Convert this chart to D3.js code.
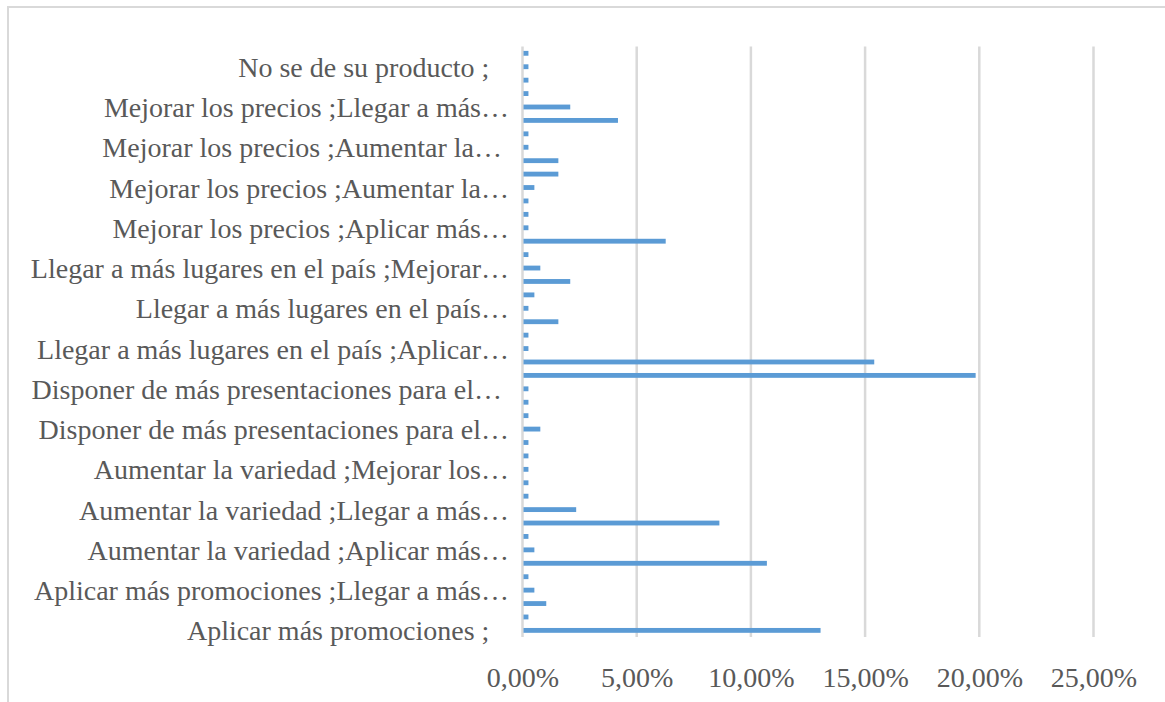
<!DOCTYPE html>
<html>
<head>
<meta charset="utf-8">
<script src="https://cdn.jsdelivr.net/npm/d3@7/dist/d3.min.js"></script>
<style>
  html, body { margin: 0; padding: 0; background: #fff; }
  svg { display: block; }
  text { font-family: "Liberation Serif", "Times New Roman", serif; fill: #595959; white-space: pre; }
</style>
</head>
<body>
<svg id="chart" width="1165" height="702"></svg>
<script>
// Categories listed from bottom (first) to top (last); only every 3rd is shown on the axis
const categories = [
  "Aplicar más promociones ;   \u2009",
  "Aplicar más promociones ;Aumentar la variedad ;",
  "Aplicar más promociones ;Disponer de más presentaciones ;",
  "Aplicar más promociones ;Llegar a más… ",
  "Aplicar más promociones ;Mejorar los precios ;",
  "Aumentar la variedad ;",
  "Aumentar la variedad ;Aplicar más… ",
  "Aumentar la variedad ;Aplicar más promociones ;Mejorar ;",
  "Aumentar la variedad ;Disponer de más presentaciones ;",
  "Aumentar la variedad ;Llegar a más… ",
  "Aumentar la variedad ;Llegar a más lugares ;Mejorar ;",
  "Aumentar la variedad ;Llegar a más lugares ;Aplicar ;",
  "Aumentar la variedad ;Mejorar los… ",
  "Aumentar la variedad ;Mejorar los precios ;Aplicar ;",
  "Disponer de más presentaciones para el consumo ;",
  "Disponer de más presentaciones para el… ",
  "Disponer de más presentaciones ;Aplicar ;",
  "Disponer de más presentaciones ;Aumentar ;",
  "Disponer de más presentaciones para el…  ",
  "Llegar a más lugares en el país ;",
  "Llegar a más lugares en el país ;Aplicar más promociones ;",
  "Llegar a más lugares en el país ;Aplicar… ",
  "Llegar a más lugares en el país ;Aumentar la variedad ;",
  "Llegar a más lugares en el país ;Disponer ;",
  "Llegar a más lugares en el país… ",
  "Llegar a más lugares en el país ;Disponer ;Mejorar ;",
  "Llegar a más lugares en el país ;Mejorar los precios ;",
  "Llegar a más lugares en el país ;Mejorar… ",
  "Llegar a más lugares en el país ;Mejorar ;Aumentar ;",
  "Mejorar los precios ;",
  "Mejorar los precios ;Aplicar más… ",
  "Mejorar los precios ;Aplicar más promociones ;Llegar ;",
  "Mejorar los precios ;Aumentar la variedad ;",
  "Mejorar los precios ;Aumentar la… ",
  "Mejorar los precios ;Aumentar la variedad ;Aplicar ;",
  "Mejorar los precios ;Aumentar la variedad ;Llegar ;",
  "Mejorar los precios ;Aumentar la…  ",
  "Mejorar los precios ;Disponer de más presentaciones ;",
  "Mejorar los precios ;Llegar a más lugares en el país ;",
  "Mejorar los precios ;Llegar a más… ",
  "Mejorar los precios ;Llegar a más lugares ;Aplicar ;",
  "Mejorar los precios ;Llegar a más lugares ;Aumentar ;",
  "No se de su producto ;   \u2009",
  "No se de su producto ;Mejorar los precios ;"
];
// Percentage values (same order as categories)
const values = [
  13.05, 0.26, 1.04, 0.52, 0.26, 10.70, 0.52, 0.26, 8.62, 2.35,
  0.26, 0.26, 0.26, 0.26, 0.26, 0.78, 0.26, 0.26, 0.26, 19.84,
  15.40, 0.26, 0.26, 1.57, 0.26, 0.52, 2.09, 0.78, 0.26, 6.27,
  0.26, 0.26, 0.26, 0.52, 1.57, 1.57, 0.26, 0.26, 4.18, 2.09,
  0.26, 0.26, 0.26, 0.26
];
const xTicks = [0, 5, 10, 15, 20, 25];

const data = categories.map((c, i) => ({ cat: c, val: values[i] }));
const svg = d3.select("#chart");

// outer chart border
svg.append("rect")
  .attr("x", 8).attr("y", 7).attr("width", 1170).attr("height", 710)
  .attr("fill", "none").attr("stroke", "#d9d9d9").attr("stroke-width", 2);

const plotTop = 46.6, plotBottom = 637.1;
const x = d3.scaleLinear().domain([0, 25]).range([522.5, 1093.5]);
const y = d3.scaleBand().domain(categories).range([plotBottom, plotTop])
  .paddingInner(0.64).paddingOuter(0.32);

// gridlines
svg.append("g").selectAll("line").data(xTicks).join("line")
  .attr("x1", d => x(d)).attr("x2", d => x(d))
  .attr("y1", plotTop).attr("y2", plotBottom)
  .attr("stroke", "#d9d9d9").attr("stroke-width", 2.5);

// bars
svg.append("g").selectAll("rect").data(data).join("rect")
  .attr("x", x(0) + 1)
  .attr("y", d => y(d.cat))
  .attr("width", d => Math.max(0, x(d.val) - x(0) - 1))
  .attr("height", y.bandwidth())
  .attr("fill", "#5b9bd5");

// x axis labels
const fmt = d => d.toFixed(2).replace(".", ",") + "%";
const xAxis = d3.axisBottom(x).tickValues(xTicks).tickFormat(fmt).tickSize(0).tickPadding(0);
const gx = svg.append("g").attr("transform", `translate(0, 667)`).call(xAxis);
gx.select(".domain").remove();
gx.selectAll("text").attr("font-size", 28).attr("dy", "0.71em")
  .style("font-family", '"Liberation Serif", "Times New Roman", serif').attr("fill", "#595959");

// y axis labels (every 3rd category)
const yTicks = categories.filter((c, i) => i % 3 === 0);
const yAxis = d3.axisLeft(y).tickValues(yTicks).tickSize(0).tickPadding(0);
const gy = svg.append("g").attr("transform", `translate(516, 0)`).call(yAxis);
gy.select(".domain").remove();
gy.selectAll("text").attr("font-size", 28).attr("dy", "0.36em")
  .style("font-family", '"Liberation Serif", "Times New Roman", serif')
  .style("white-space", "pre").attr("fill", "#595959");
</script>
</body>
</html>
